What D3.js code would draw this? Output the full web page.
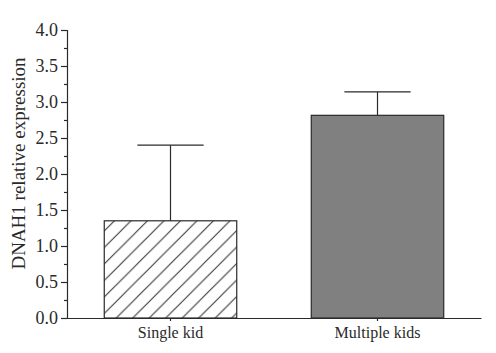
<!DOCTYPE html>
<html>
<head>
<meta charset="utf-8">
<script src="https://cdn.jsdelivr.net/npm/d3@7"></script>
<style>
  body { margin: 0; background: #fff; }
  svg { display: block; }
</style>
</head>
<body>
<div id="chart"></div>
<script>
'use strict';

var groups = ['Single kid', 'Multiple kids'],
    means = [1.35, 2.815],
    errors = [1.05, 0.325],
    yTicks = [0, 0.5, 1, 1.5, 2, 2.5, 3, 3.5, 4];

var width = 496,
    height = 353,
    margin = { top: 30, right: 15, bottom: 35, left: 67 },
    x = d3.scaleBand().domain(groups).range([margin.left, width - margin.right]).paddingInner(0.36).paddingOuter(0.18),
    y = d3.scaleLinear().domain([0, 4]).range([height - margin.bottom, margin.top]),
    svg = d3.select('#chart').append('svg').attr('width', width).attr('height', height),
    ink = '#2a2a2a',
    serif = '"Liberation Serif", "Times New Roman", serif';

// hatch pattern for the first bar
var pat = svg.append('defs').append('pattern')
  .attr('id', 'hatch')
  .attr('patternUnits', 'userSpaceOnUse')
  .attr('width', 16.5).attr('height', 16.5)
  .attr('patternTransform', 'translate(' + x(groups[0]) + ',0)');
pat.append('path')
  .attr('d', 'M0,16.5 L16.5,0 M-4,4 L4,-4 M12.5,20.5 L20.5,12.5')
  .attr('stroke', ink).attr('stroke-width', 1);

// error bars (drawn first so bar top covers base)
var eb = svg.append('g').selectAll('g').data(groups).enter().append('g');
eb.append('line')
  .attr('x1', function (d) { return x(d) + x.bandwidth() / 2; })
  .attr('x2', function (d) { return x(d) + x.bandwidth() / 2; })
  .attr('y1', function (d, i) { return y(means[i]); })
  .attr('y2', function (d, i) { return y(means[i] + errors[i]); })
  .attr('stroke', ink).attr('stroke-width', 1.2);
eb.append('line')
  .attr('x1', function (d) { return x(d) + x.bandwidth() / 4; })
  .attr('x2', function (d) { return x(d) + x.bandwidth() * 3 / 4; })
  .attr('y1', function (d, i) { return y(means[i] + errors[i]); })
  .attr('y2', function (d, i) { return y(means[i] + errors[i]); })
  .attr('stroke', ink).attr('stroke-width', 1.2);

// bars
svg.append('g').selectAll('rect').data(groups).enter().append('rect')
  .attr('x', function (d) { return x(d); })
  .attr('width', x.bandwidth())
  .attr('y', function (d, i) { return y(means[i]); })
  .attr('height', function (d, i) { return y(0) - y(means[i]); })
  .attr('fill', function (d, i) { return i === 0 ? 'url(#hatch)' : '#808080'; })
  .attr('stroke', ink).attr('stroke-width', 1.2);

// y axis with minor ticks
var minor = d3.range(0.25, 4, 0.5);
svg.append('g')
  .attr('transform', 'translate(' + margin.left + ',0)')
  .call(d3.axisLeft(y).tickValues(minor).tickSize(3).tickFormat(''))
  .call(function (g) { g.select('.domain').remove(); });
var yAxis = svg.append('g')
  .attr('transform', 'translate(' + margin.left + ',0)')
  .attr('font-family', serif).attr('font-size', 18)
  .call(d3.axisLeft(y).tickValues(yTicks).tickSize(6).tickSizeOuter(6).tickPadding(3).tickFormat(d3.format('.1f')));
yAxis.attr('font-family', serif).attr('font-size', 18);
yAxis.selectAll('text').attr('fill', ink);
svg.selectAll('.tick line').attr('stroke', ink).attr('stroke-width', 1.2);
yAxis.select('.domain').attr('stroke', ink).attr('stroke-width', 1.2);

// x axis
var xAxis = svg.append('g')
  .attr('transform', 'translate(0,' + y(0) + ')')
  .call(d3.axisBottom(x).tickSize(3).tickSizeOuter(0).tickPadding(6));
xAxis.attr('font-family', serif).attr('font-size', 16);
xAxis.select('.domain').attr('stroke', ink).attr('stroke-width', 1.2);
xAxis.selectAll('.tick line').attr('stroke', ink).attr('stroke-width', 1.2);
xAxis.selectAll('text').attr('fill', ink);

// y label
svg.append('text')
  .attr('transform', 'translate(25,' + (y(2) - 10.5) + ') rotate(-90)')
  .attr('text-anchor', 'middle')
  .attr('font-family', serif).attr('font-size', 19)
  .attr('fill', ink)
  .text('DNAH1 relative expression');
</script>
</body>
</html>
